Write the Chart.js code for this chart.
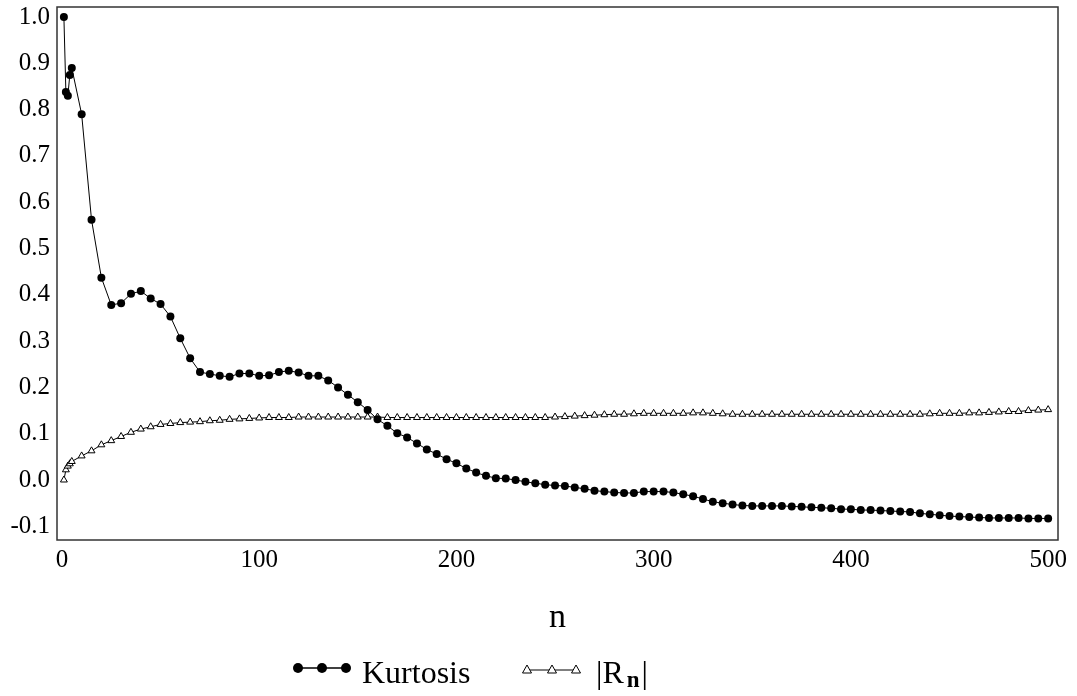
<!DOCTYPE html>
<html>
<head>
<meta charset="utf-8">
<script src="https://cdn.jsdelivr.net/npm/chart.js@4.4.1/dist/chart.umd.min.js"></script>
<style>
html,body{margin:0;padding:0;background:#fff;}
#wrap{width:1077px;height:696px;position:relative;}
</style>
</head>
<body>
<div id="wrap"><canvas id="c" width="1077" height="696"></canvas></div>
<script>
const nValues = [
  1, 2, 3, 4, 5,
  10, 15, 20, 25, 30, 35, 40, 45, 50, 55,
  60, 65, 70, 75, 80, 85, 90, 95, 100, 105,
  110, 115, 120, 125, 130, 135, 140, 145, 150, 155,
  160, 165, 170, 175, 180, 185, 190, 195, 200, 205,
  210, 215, 220, 225, 230, 235, 240, 245, 250, 255,
  260, 265, 270, 275, 280, 285, 290, 295, 300, 305,
  310, 315, 320, 325, 330, 335, 340, 345, 350, 355,
  360, 365, 370, 375, 380, 385, 390, 395, 400, 405,
  410, 415, 420, 425, 430, 435, 440, 445, 450, 455,
  460, 465, 470, 475, 480, 485, 490, 495, 500
];
const kurtosis = [
  1.000, 0.838, 0.830, 0.875, 0.890,
  0.790, 0.562, 0.437, 0.378, 0.382, 0.402, 0.408, 0.392, 0.380, 0.353,
  0.306, 0.263, 0.233, 0.229, 0.225, 0.223, 0.230, 0.230, 0.225, 0.226,
  0.233, 0.236, 0.232, 0.225, 0.225, 0.215, 0.200, 0.184, 0.168, 0.151,
  0.131, 0.117, 0.101, 0.092, 0.079, 0.066, 0.056, 0.045, 0.036, 0.025,
  0.016, 0.009, 0.004, 0.003, 0.000, -0.004, -0.007, -0.010, -0.012, -0.013,
  -0.016, -0.019, -0.023, -0.025, -0.027, -0.028, -0.028, -0.025, -0.025, -0.025,
  -0.027, -0.031, -0.035, -0.041, -0.047, -0.050, -0.053, -0.055, -0.056, -0.056,
  -0.056, -0.056, -0.057, -0.058, -0.059, -0.060, -0.061, -0.063, -0.063, -0.065,
  -0.065, -0.066, -0.067, -0.068, -0.069, -0.072, -0.074, -0.076, -0.078, -0.079,
  -0.080, -0.081, -0.082, -0.082, -0.082, -0.082, -0.083, -0.083, -0.083
];
const rnAbs = [
  0.000, 0.022, 0.030, 0.035, 0.040,
  0.052, 0.063, 0.076, 0.085, 0.094, 0.103, 0.110, 0.115, 0.120, 0.122,
  0.124, 0.125, 0.126, 0.128, 0.129, 0.131, 0.132, 0.133, 0.134, 0.135,
  0.135, 0.135, 0.136, 0.136, 0.136, 0.136, 0.136, 0.136, 0.136, 0.136,
  0.136, 0.135, 0.135, 0.135, 0.135, 0.135, 0.135, 0.135, 0.135, 0.135,
  0.135, 0.135, 0.135, 0.135, 0.135, 0.135, 0.135, 0.135, 0.136, 0.137,
  0.138, 0.139, 0.140, 0.141, 0.142, 0.142, 0.143, 0.144, 0.144, 0.144,
  0.144, 0.144, 0.145, 0.145, 0.144, 0.143, 0.142, 0.142, 0.142, 0.142,
  0.142, 0.142, 0.142, 0.142, 0.142, 0.142, 0.142, 0.142, 0.142, 0.142,
  0.142, 0.142, 0.142, 0.142, 0.142, 0.142, 0.143, 0.144, 0.144, 0.144,
  0.145, 0.145, 0.146, 0.147, 0.148, 0.148, 0.150, 0.151, 0.152
];
const xTicks = [0, 100, 200, 300, 400, 500];
const yTicks = [-0.1, 0.0, 0.1, 0.2, 0.3, 0.4, 0.5, 0.6, 0.7, 0.8, 0.9, 1.0];
const seriesLabels = ['Kurtosis', '|Rn|'];

const FONT = "'Liberation Serif', 'Times New Roman', serif";
Chart.defaults.font.family = FONT;
Chart.defaults.color = '#000';

const toPts = (ys) => nValues.map((n, i) => ({x: n, y: ys[i]}));

const framePlugin = {
  id: 'frame',
  afterDatasetsDraw(chart) {
    const {ctx, chartArea: a} = chart;
    ctx.save();
    ctx.strokeStyle = '#333';
    ctx.lineWidth = 1.5;
    ctx.strokeRect(a.left, a.top, a.right - a.left, a.bottom - a.top);
    ctx.restore();
  }
};

const legendPlugin = {
  id: 'customLegend',
  afterDraw(chart) {
    const ctx = chart.ctx;
    ctx.save();
    const yc = 668;
    ctx.strokeStyle = '#000';
    ctx.lineWidth = 1.5;
    ctx.beginPath(); ctx.moveTo(297, yc); ctx.lineTo(347, yc); ctx.stroke();
    ctx.fillStyle = '#000';
    [298, 322, 346].forEach(x => { ctx.beginPath(); ctx.arc(x, yc, 5, 0, Math.PI * 2); ctx.fill(); });
    ctx.font = '32px ' + FONT;
    ctx.textBaseline = 'alphabetic';
    ctx.fillText(seriesLabels[0], 362, 683);
    const yt = 670;
    ctx.lineWidth = 1;
    ctx.beginPath(); ctx.moveTo(524, yt); ctx.lineTo(578, yt); ctx.stroke();
    [527, 552, 576].forEach(x => {
      ctx.beginPath();
      ctx.moveTo(x, yt - 5);
      ctx.lineTo(x + 4.5, yt + 3);
      ctx.lineTo(x - 4.5, yt + 3);
      ctx.closePath();
      ctx.fillStyle = '#fff'; ctx.fill();
      ctx.strokeStyle = '#000'; ctx.stroke();
    });
    ctx.fillStyle = '#000';
    ctx.font = '32px ' + FONT;
    let x = 596;
    ctx.fillText('|R', x, 683);
    x += ctx.measureText('|R').width + 3;
    ctx.font = 'bold 23px ' + FONT;
    ctx.fillText('n', x, 687);
    x += ctx.measureText('n').width + 2;
    ctx.font = '32px ' + FONT;
    ctx.fillText('|', x, 683);
    ctx.restore();
  }
};

new Chart(document.getElementById('c'), {
  type: 'scatter',
  data: {
    datasets: [
      {
        label: seriesLabels[0],
        data: toPts(kurtosis),
        showLine: true,
        borderColor: '#000',
        borderWidth: 1,
        pointStyle: 'circle',
        pointRadius: 4,
        pointBackgroundColor: '#000',
        pointBorderColor: '#000',
        pointBorderWidth: 0,
        tension: 0
      },
      {
        label: seriesLabels[1],
        data: toPts(rnAbs),
        showLine: true,
        borderColor: '#000',
        borderWidth: 1,
        pointStyle: 'triangle',
        pointRadius: 4,
        pointBackgroundColor: '#fff',
        pointBorderColor: '#000',
        pointBorderWidth: 1,
        tension: 0
      }
    ]
  },
  options: {
    responsive: false,
    animation: false,
    layout: {padding: {left: 0, top: 7, right: 19, bottom: 56}},
    plugins: {legend: {display: false}, tooltip: {enabled: false}},
    scales: {
      x: {
        type: 'linear',
        min: -2.5,
        max: 505,
        afterBuildTicks: (s) => { s.ticks = xTicks.map(v => ({value: v})); },
        afterFit: (s) => { s.height = 100; s.paddingLeft = 0; s.paddingRight = 0; },
        grid: {display: false, drawTicks: false},
        border: {display: false},
        ticks: {font: {size: 25}, color: '#000', padding: 5, maxRotation: 0, autoSkip: false,
                callback: (v) => String(v)},
        title: {display: true, text: 'n', font: {size: 34}, color: '#000', padding: {top: 0, bottom: 2}}
      },
      y: {
        type: 'linear',
        min: -0.1296,
        max: 1.0216,
        afterBuildTicks: (s) => { s.ticks = yTicks.map(v => ({value: v})); },
        afterFit: (s) => { s.width = 57; s.paddingTop = 0; s.paddingBottom = 0; },
        grid: {display: false, drawTicks: false},
        border: {display: false},
        ticks: {font: {size: 25}, color: '#000', padding: 7, autoSkip: false,
                callback: (v) => Number(v).toFixed(1)}
      }
    }
  },
  plugins: [framePlugin, legendPlugin]
});
</script>
</body>
</html>
